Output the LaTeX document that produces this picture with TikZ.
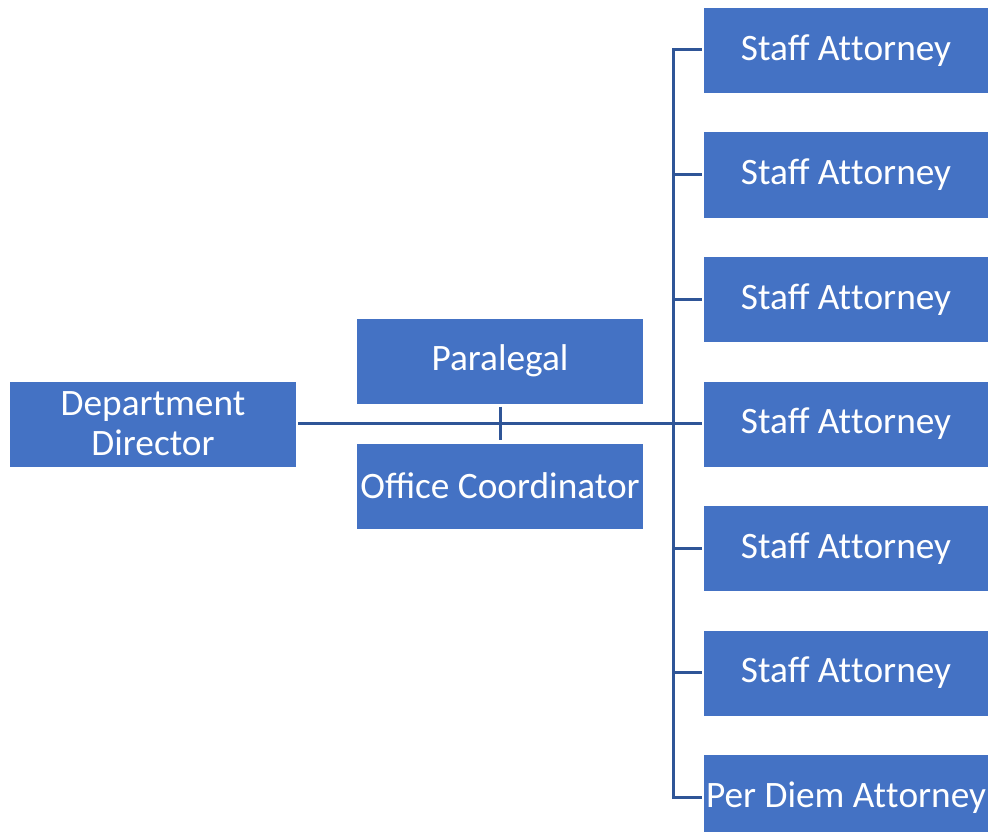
\documentclass[tikz,border=0pt]{standalone}
\usepackage{fontspec}
\setmainfont{Carlito}
\definecolor{boxblue}{RGB}{68,114,196}
\definecolor{lineblue}{RGB}{47,85,151}
\newcommand{\attny}{At\kern0pt t\kern0pt orney}
\begin{document}
\begin{tikzpicture}[x=1pt,y=-1pt,
  orgbox/.style={fill=boxblue,text=white,inner sep=0pt,minimum height=85pt,
    align=center,font=\fontsize{37.3}{40}\selectfont},
  conn/.style={draw=lineblue,line width=3pt}]
\useasboundingbox (0,0) rectangle (988,832);
\node[orgbox,minimum width=286pt] (dd) at (153,424) {Department\\Director};
\node[orgbox,minimum width=286pt] (para) at (500,361) {Paralegal};
\node[orgbox,minimum width=286pt] (oc) at (500,486) {Office Coordinator};
\foreach \i/\y in {1/50.5,2/175,3/299.5,4/424,5/548.5,6/673}{
  \node[orgbox,minimum width=284pt] (sa\i) at (846,\y) {Staff \attny};
}
\node[orgbox,minimum width=284pt] (sa7) at (846,797.5) {Per Diem \attny};
\coordinate (ttop) at (673,50);
\draw[conn,shorten <=2pt,shorten >=2pt] (dd.east |- 0,423.5) -- (sa4.west |- 0,423.5);
\draw[conn,line cap=rect] (673,50) -- (673,797);
\foreach \i in {1,...,7}{
  \draw[conn,shorten >=2pt] (ttop |- sa\i.west) ++(0,-0.5) -- ++(31,0);
}
\draw[conn,shorten <=3pt,shorten >=3pt] (para.south) -- (oc.north);
\end{tikzpicture}
\end{document}
